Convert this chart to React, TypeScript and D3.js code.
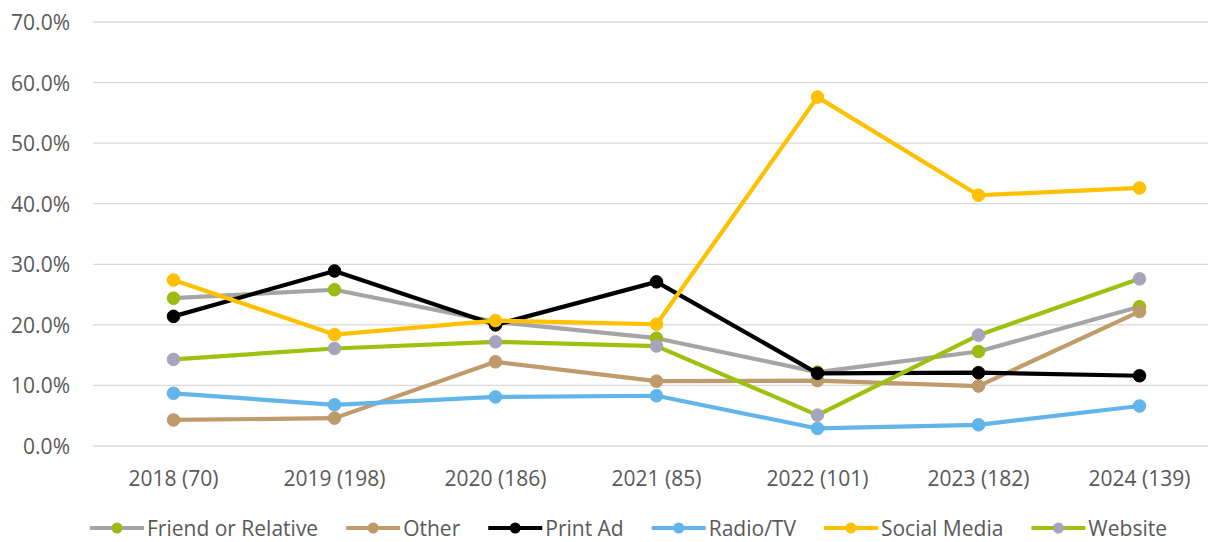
import React, { useEffect, useRef } from 'react';
import * as d3 from 'd3';

const categories = ['2018 (70)', '2019 (198)', '2020 (186)', '2021 (85)', '2022 (101)', '2023 (182)', '2024 (139)'];
const yTicks = [0, 10, 20, 30, 40, 50, 60, 70];

const friendOrRelative = [24.4, 25.8, 20.5, 17.8, 12.2, 15.6, 23.0];
const other = [4.3, 4.6, 13.9, 10.7, 10.8, 9.9, 22.2];
const printAd = [21.4, 28.9, 20.0, 27.1, 12.0, 12.1, 11.6];
const radioTv = [8.7, 6.8, 8.1, 8.3, 2.9, 3.5, 6.6];
const socialMedia = [27.4, 18.4, 20.7, 20.1, 57.6, 41.4, 42.6];
const website = [14.3, 16.1, 17.2, 16.5, 5.1, 18.3, 27.6];

const series = [
  { name: 'Friend or Relative', values: friendOrRelative, line: '#A5A5A5', marker: '#9BBB12' },
  { name: 'Other', values: other, line: '#C09B6C', marker: '#BE9A6B' },
  { name: 'Print Ad', values: printAd, line: '#000000', marker: '#000000' },
  { name: 'Radio/TV', values: radioTv, line: '#62B5EA', marker: '#62B5EA' },
  { name: 'Social Media', values: socialMedia, line: '#FFC000', marker: '#FFC000' },
  { name: 'Website', values: website, line: '#9CC20E', marker: '#A8A4BC' },
];

const W = 1208;
const H = 542;
const FONT = '"Open Sans", "Liberation Sans", sans-serif';

const App = () => {
  const svgRef = useRef<SVGSVGElement>(null);

  useEffect(() => {
    const svg = d3.select(svgRef.current);
    svg.selectAll('*').remove();

    const margin = { top: 22, left: 93, bottom: 446 };
    const x = d3.scalePoint<string>().domain(categories).range([93, 1220]).padding(0.5);
    const y = d3.scaleLinear().domain([0, 70]).range([margin.bottom, margin.top]);

    // grid + y labels
    const grid = svg.append('g');
    yTicks.forEach(t => {
      grid.append('line')
        .attr('x1', margin.left).attr('x2', W)
        .attr('y1', y(t)).attr('y2', y(t))
        .attr('stroke', '#D9D9D9').attr('stroke-width', 1.3);
      grid.append('text')
        .attr('x', 70).attr('y', y(t))
        .attr('text-anchor', 'end').attr('dominant-baseline', 'central')
        .attr('fill', '#595959').style('font-family', FONT).style('font-size', '21px')
        .text(t.toFixed(1) + '%');
    });

    categories.forEach(c => {
      svg.append('text')
        .attr('x', x(c)!).attr('y', 478)
        .attr('text-anchor', 'middle').attr('dominant-baseline', 'central')
        .attr('fill', '#595959').style('font-family', FONT).style('font-size', '21px')
        .text(c);
    });

    const line = d3.line<number>()
      .x((d, i) => x(categories[i])!)
      .y(d => y(d));

    series.forEach(s => {
      const g = svg.append('g');
      g.append('path')
        .datum(s.values)
        .attr('d', line)
        .attr('fill', 'none')
        .attr('stroke', s.line)
        .attr('stroke-width', 4.2)
        .attr('stroke-linejoin', 'round');
      s.values.forEach((v, i) => {
        g.append('circle')
          .attr('cx', x(categories[i])!)
          .attr('cy', y(v))
          .attr('r', 6.3)
          .attr('fill', s.marker)
          .attr('stroke', s.marker)
          .attr('stroke-width', 1);
      });
    });

    // legend
    const legend = svg.append('g');
    let lx = 90;
    const ly = 528;
    series.forEach(s => {
      const item = legend.append('g');
      item.append('line')
        .attr('x1', lx).attr('x2', lx + 54)
        .attr('y1', ly).attr('y2', ly)
        .attr('stroke', s.line).attr('stroke-width', 4.2);
      item.append('circle')
        .attr('cx', lx + 27).attr('cy', ly).attr('r', 5.5)
        .attr('fill', s.marker);
      const txt = item.append('text')
        .attr('x', lx + 57).attr('y', ly)
        .attr('dominant-baseline', 'central')
        .attr('fill', '#595959').style('font-family', FONT).style('font-size', '21px')
        .text(s.name);
      const w = (txt.node() as SVGTextElement).getComputedTextLength();
      lx += 57 + w + 28;
    });
  }, []);

  return (
    <svg ref={svgRef} width={W} height={H} style={{ display: 'block', position: 'absolute', left: 0, top: 0, background: '#fff' }} />
  );
};

export default App;
